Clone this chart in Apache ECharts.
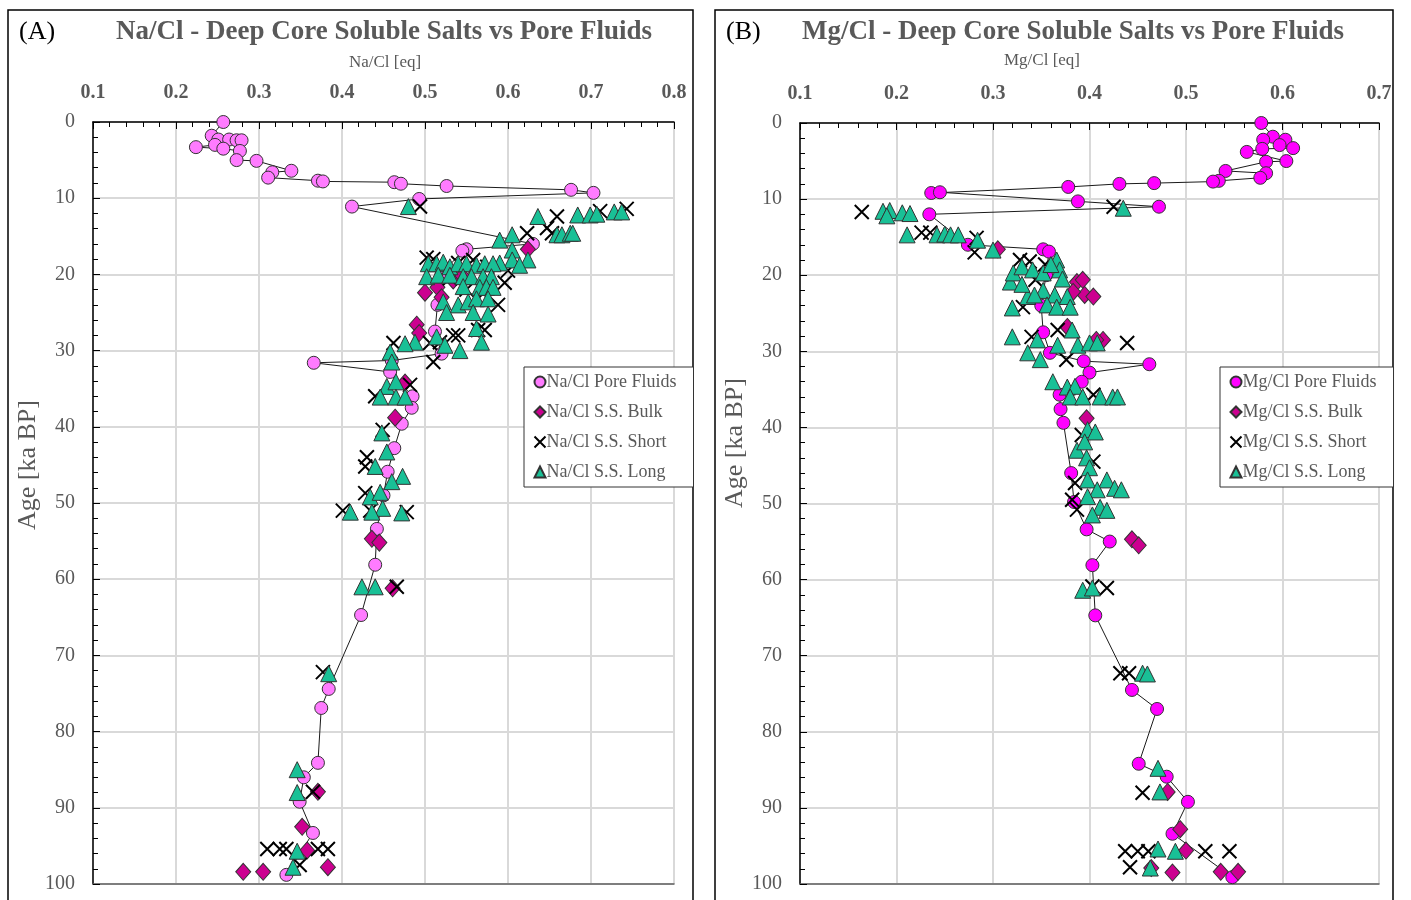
<!DOCTYPE html>
<html><head><meta charset="utf-8">
<script src="https://cdn.jsdelivr.net/npm/echarts@6/dist/echarts.min.js"></script>
<style>html,body{margin:0;padding:0;background:#fff}#c{width:1411px;height:900px}</style>
</head><body><div id="c"></div>
<script>
// ---------- DATA (value, age ka BP) ----------
const naTicks = ['0.1','0.2','0.3','0.4','0.5','0.6','0.7','0.8'];
const mgTicks = ['0.1','0.2','0.3','0.4','0.5','0.6','0.7'];
const ageTicks = [0,10,20,30,40,50,60,70,80,90,100];

const naPore = [[0.257,0],[0.243,1.8],[0.251,2.3],[0.264,2.3],[0.273,2.4],[0.279,2.4],[0.247,3.0],[0.224,3.3],[0.257,3.5],[0.277,3.8],[0.273,5.0],[0.297,5.1],[0.339,6.4],[0.316,6.6],[0.311,7.3],[0.371,7.7],[0.377,7.8],[0.463,7.9],[0.471,8.1],[0.526,8.4],[0.676,8.9],[0.703,9.3],[0.493,10.1],[0.412,11.1],[0.630,16.0],[0.550,16.7],[0.545,16.9],[0.52,20.0],[0.515,24.0],[0.512,27.5],[0.52,30.4],[0.46,31.3],[0.366,31.6],[0.458,32.8],[0.485,36.0],[0.484,37.5],[0.472,39.6],[0.463,42.8],[0.455,45.9],[0.45,49.0],[0.442,53.4],[0.44,58.1],[0.423,64.7],[0.384,74.4],[0.375,76.9],[0.371,84.1],[0.354,86.0],[0.349,89.2],[0.365,93.3],[0.333,98.8]];
const naBulk = [[0.624,16.7],[0.53,19.5],[0.534,20.8],[0.545,20.2],[0.515,21.7],[0.5,22.4],[0.52,23.0],[0.49,26.6],[0.493,27.7],[0.476,34.2],[0.464,38.8],[0.436,54.7],[0.445,55.2],[0.461,61.2],[0.371,87.9],[0.352,92.5],[0.358,95.6],[0.383,97.8],[0.305,98.4],[0.281,98.4]];
const naShort = [[0.494,11.1],[0.743,11.4],[0.711,11.7],[0.659,12.4],[0.647,13.9],[0.623,14.6],[0.653,14.6],[0.502,17.8],[0.51,18.0],[0.54,18.5],[0.558,18.1],[0.575,19.0],[0.6,19.5],[0.53,20.5],[0.596,21.1],[0.55,22.0],[0.57,22.5],[0.588,24.0],[0.572,27.3],[0.564,27.3],[0.534,28.0],[0.54,28.0],[0.518,28.9],[0.506,29.0],[0.462,29.0],[0.51,31.5],[0.44,36.0],[0.482,34.5],[0.449,40.4],[0.43,44.0],[0.428,45.2],[0.428,48.7],[0.401,51.0],[0.434,51.0],[0.478,51.2],[0.466,61.0],[0.377,72.2],[0.365,87.9],[0.31,95.4],[0.325,95.4],[0.333,95.4],[0.371,95.4],[0.383,95.4],[0.349,97.5]];
const naLong = [[0.48,11.1],[0.636,12.4],[0.684,12.2],[0.699,12.2],[0.707,12.1],[0.728,11.8],[0.737,11.8],[0.659,14.8],[0.665,14.8],[0.675,14.6],[0.678,14.6],[0.59,15.5],[0.605,14.8],[0.605,16.8],[0.605,18.1],[0.624,18.1],[0.614,18.8],[0.59,18.5],[0.504,18.6],[0.514,18.6],[0.522,18.4],[0.53,19.0],[0.54,18.6],[0.55,18.6],[0.562,18.8],[0.572,18.6],[0.582,18.6],[0.502,20.3],[0.516,20.1],[0.53,20.1],[0.546,20.3],[0.556,20.3],[0.57,20.3],[0.58,20.3],[0.546,21.6],[0.566,21.7],[0.574,21.7],[0.582,21.7],[0.522,23.6],[0.54,24.0],[0.552,23.6],[0.562,23.2],[0.576,23.2],[0.526,25.0],[0.558,25.0],[0.576,25.2],[0.562,27.1],[0.568,28.9],[0.542,30.0],[0.514,28.2],[0.524,29.3],[0.488,28.9],[0.476,29.1],[0.458,30.2],[0.46,31.5],[0.454,34.7],[0.465,34.1],[0.446,36.1],[0.465,36.1],[0.476,36.1],[0.448,40.8],[0.454,43.3],[0.44,45.2],[0.473,46.5],[0.46,47.2],[0.434,49.2],[0.446,48.6],[0.449,50.7],[0.41,51.2],[0.436,51.2],[0.472,51.3],[0.424,61.0],[0.44,61.0],[0.384,72.4],[0.346,85.0],[0.346,88.0],[0.346,95.7],[0.341,97.8]];

const mgPore = [[0.578,0],[0.59,1.8],[0.58,2.2],[0.603,2.2],[0.597,2.9],[0.611,3.3],[0.579,3.4],[0.563,3.8],[0.604,5.0],[0.583,5.1],[0.541,6.3],[0.583,6.6],[0.577,7.2],[0.534,7.6],[0.528,7.7],[0.467,7.9],[0.431,8.0],[0.378,8.4],[0.236,9.2],[0.245,9.1],[0.388,10.3],[0.472,11.0],[0.234,12.0],[0.274,16.0],[0.352,16.6],[0.358,16.9],[0.355,20.0],[0.35,24.0],[0.352,27.5],[0.359,30.2],[0.394,31.3],[0.462,31.7],[0.4,32.8],[0.392,34.0],[0.369,35.7],[0.37,37.6],[0.373,39.4],[0.381,46.0],[0.384,49.8],[0.397,53.4],[0.421,55.0],[0.403,58.1],[0.406,64.7],[0.444,74.5],[0.47,77.0],[0.451,84.2],[0.48,85.9],[0.502,89.2],[0.486,93.4],[0.548,99.1]];
const mgBulk = [[0.305,16.6],[0.387,20.9],[0.393,20.6],[0.395,22.6],[0.404,22.8],[0.383,22.2],[0.377,26.8],[0.414,28.5],[0.407,28.5],[0.397,38.8],[0.444,54.7],[0.451,55.5],[0.481,87.9],[0.494,92.8],[0.5,95.6],[0.464,97.9],[0.486,98.5],[0.536,98.4],[0.554,98.4]];
const mgShort = [[0.164,11.7],[0.425,11.0],[0.226,14.4],[0.235,14.4],[0.283,15.1],[0.281,17.0],[0.328,18.0],[0.338,18.2],[0.354,18.6],[0.344,20.6],[0.331,24.2],[0.34,28.1],[0.367,27.2],[0.376,31.1],[0.439,28.9],[0.404,35.7],[0.392,41.0],[0.404,44.5],[0.385,47.3],[0.387,50.8],[0.382,49.5],[0.418,61.1],[0.403,60.9],[0.432,72.3],[0.441,72.3],[0.455,88.0],[0.437,95.7],[0.45,95.7],[0.461,95.7],[0.52,95.7],[0.545,95.7],[0.442,97.8]];
const mgLong = [[0.186,11.6],[0.193,11.5],[0.206,11.8],[0.214,11.9],[0.19,12.2],[0.435,11.2],[0.211,14.7],[0.242,14.7],[0.25,14.6],[0.256,14.7],[0.264,14.7],[0.284,15.4],[0.3,16.7],[0.318,20.9],[0.321,19.7],[0.33,18.9],[0.341,19.3],[0.352,19.7],[0.366,18.0],[0.369,19.3],[0.36,18.6],[0.352,22.0],[0.364,22.6],[0.377,22.8],[0.356,23.9],[0.366,24.2],[0.38,24.2],[0.32,24.3],[0.336,22.8],[0.343,22.6],[0.33,21.2],[0.372,20.5],[0.32,28.1],[0.346,28.5],[0.336,30.2],[0.349,31.1],[0.367,29.2],[0.382,27.2],[0.388,29.2],[0.4,28.9],[0.408,28.9],[0.362,34.0],[0.377,34.7],[0.385,34.6],[0.38,36.0],[0.393,36.0],[0.411,36.0],[0.424,36.0],[0.429,36.0],[0.398,40.3],[0.406,40.6],[0.387,43.0],[0.395,41.9],[0.397,44.0],[0.4,45.3],[0.398,46.9],[0.418,46.9],[0.426,48.0],[0.433,48.2],[0.408,48.2],[0.398,49.1],[0.411,50.5],[0.418,50.9],[0.403,51.5],[0.393,61.4],[0.403,61.1],[0.455,72.3],[0.46,72.4],[0.471,84.8],[0.473,87.9],[0.471,95.4],[0.489,95.7],[0.463,97.9]];

// ---------- STYLE ----------
const FONT = '"Liberation Serif","DejaVu Serif",serif';
const GRAY = '#595959';
const X_PATH = 'path://M0,0L10,10M10,0L0,10';
const panels = [
  {tag:'(A)', title:'Na/Cl - Deep Core Soluble Salts vs Pore Fluids', axisName:'Na/Cl [eq]', pre:'Na/Cl', ticks:naTicks,
   pore:naPore, bulk:naBulk, short:naShort, long:naLong, poreColor:'#FF7BFF',
   frame:[8,10,685,900], grid:{left:93,top:122,width:581,height:762}, legend:{left:524,top:367},
   titleX:384, nameX:385, nameY:63, ageNameY:465},
  {tag:'(B)', title:'Mg/Cl - Deep Core Soluble Salts vs Pore Fluids', axisName:'Mg/Cl [eq]', pre:'Mg/Cl', ticks:mgTicks,
   pore:mgPore, bulk:mgBulk, short:mgShort, long:mgLong, poreColor:'#FF00FF',
   frame:[715,10,678,900], grid:{left:800,top:123,width:579,height:761}, legend:{left:1220,top:367},
   titleX:1073, nameX:1042, nameY:61, ageNameY:443}
];

const grids=[], xAxes=[], yAxes=[], series=[], legends=[], graphics=[];
panels.forEach((p,i)=>{
  const tmin = parseFloat(p.ticks[0]), tmax = parseFloat(p.ticks[p.ticks.length-1]);
  grids.push(p.grid);
  xAxes.push({type:'value', gridIndex:i, position:'top', min:tmin, max:tmax, interval:0.1,
    axisLine:{show:true,onZero:false,lineStyle:{color:'#000',width:1.5}},
    axisTick:{show:true,inside:true,length:7,lineStyle:{color:'#000'}},
    minorTick:{show:true,splitNumber:5,length:5,lineStyle:{color:'#000'}},
    axisLabel:{color:GRAY,fontFamily:FONT,fontSize:20,fontWeight:'bold',margin:19,
      formatter:v=>{const s=v.toFixed(1);return p.ticks.indexOf(s)>=0?s:'';}},
    splitLine:{show:true,lineStyle:{color:'#D9D9D9',width:2}}});
  xAxes.push({type:'value', gridIndex:i, position:'bottom', min:tmin, max:tmax,
    axisLine:{show:true,onZero:false,lineStyle:{color:'#606060',width:1.5}},
    axisTick:{show:false},axisLabel:{show:false},splitLine:{show:false}});
  yAxes.push({type:'value', gridIndex:i, inverse:true, min:0, max:100, interval:10,
    axisLine:{show:true,onZero:false,lineStyle:{color:'#000',width:1.5}},
    axisTick:{show:true,inside:true,length:7,lineStyle:{color:'#000'}},
    minorTick:{show:true,splitNumber:5,length:5,lineStyle:{color:'#000'}},
    axisLabel:{color:GRAY,fontFamily:FONT,fontSize:20,margin:18,
      formatter:v=>ageTicks.indexOf(v)>=0?String(v):''},
    splitLine:{show:true,lineStyle:{color:'#D9D9D9',width:2}}});
  const xi = i*2;
  const names = [p.pre+' Pore Fluids', p.pre+' S.S. Bulk', p.pre+' S.S. Short', p.pre+' S.S. Long'];
  series.push({name:names[0], type:'line', xAxisIndex:xi, yAxisIndex:i, data:p.pore,
    symbol:'circle', symbolSize:13, clip:true, z:2,
    lineStyle:{color:'#1a1a1a',width:1}, itemStyle:{color:p.poreColor,borderColor:'#333',borderWidth:1}});
  series.push({name:names[1], type:'scatter', xAxisIndex:xi, yAxisIndex:i, data:p.bulk,
    symbol:'diamond', symbolSize:[15,17], z:3, itemStyle:{color:'#CC0090',borderColor:'#333',borderWidth:1,opacity:1}});
  series.push({name:names[2], type:'scatter', xAxisIndex:xi, yAxisIndex:i, data:p.short,
    symbol:X_PATH, symbolSize:14, z:4, itemStyle:{color:'none',borderColor:'#000',borderWidth:2,opacity:1}});
  series.push({name:names[3], type:'scatter', xAxisIndex:xi, yAxisIndex:i, data:p.long,
    symbol:'triangle', symbolSize:[16,16], z:5, itemStyle:{color:'#19C096',borderColor:'#333',borderWidth:1,opacity:1}});
  legends.push({orient:'vertical', left:p.legend.left, top:p.legend.top, itemGap:12, itemWidth:11, itemHeight:11,
    padding:[6,17,6,8], borderColor:'#333', borderWidth:1, backgroundColor:'#fff', selectedMode:false,
    textStyle:{color:GRAY,fontFamily:FONT,fontSize:18,padding:[0,0,0,-4]},
    data:[{name:names[0],icon:'circle'},{name:names[1],icon:'diamond'},{name:names[2],icon:X_PATH},{name:names[3],icon:'triangle'}]});
  const f=p.frame;
  graphics.push({type:'rect', shape:{x:f[0],y:f[1],width:f[2],height:f[3]}, style:{fill:'none',stroke:'#000',lineWidth:1.5}, z:-1, silent:true});
  graphics.push({type:'text', x:f[0]+11, y:32, style:{text:p.tag,fill:'#000',font:'26px '+FONT,textVerticalAlign:'middle'}});
  graphics.push({type:'text', x:p.titleX, y:32, style:{text:p.title,fill:GRAY,font:'bold 27px '+FONT,textAlign:'center',textVerticalAlign:'middle'}});
  graphics.push({type:'text', x:p.nameX, y:p.nameY, style:{text:p.axisName,fill:GRAY,font:'17px '+FONT,textAlign:'center',textVerticalAlign:'middle'}});
  graphics.push({type:'text', x:f[0]+20, y:p.ageNameY, rotation:Math.PI/2, style:{text:'Age [ka BP]',fill:GRAY,font:'26px '+FONT,textAlign:'center',textVerticalAlign:'middle'}});
});

const chart = echarts.init(document.getElementById('c'), null, {renderer:'canvas'});
chart.setOption({animation:false, backgroundColor:'#fff', grid:grids, xAxis:xAxes, yAxis:yAxes, series:series, legend:legends, graphic:graphics});
</script></body></html>
